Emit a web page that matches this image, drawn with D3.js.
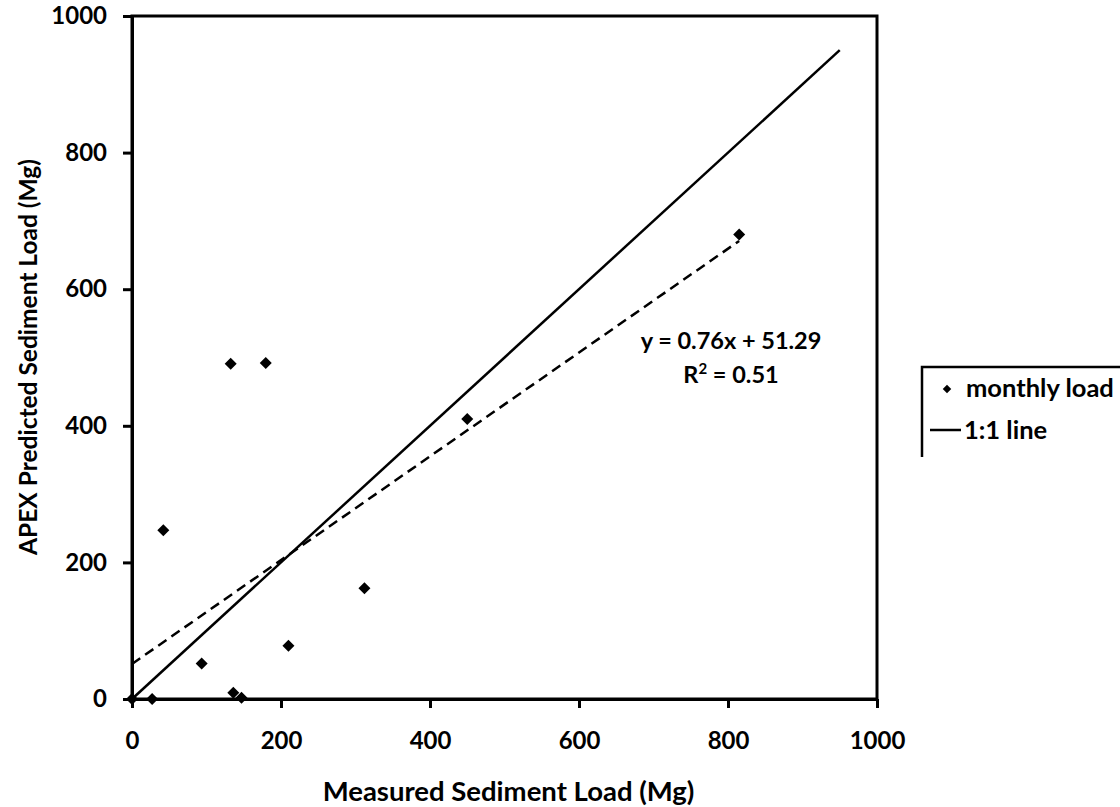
<!DOCTYPE html>
<html>
<head>
<meta charset="utf-8">
<script src="https://cdn.jsdelivr.net/npm/d3@7"></script>
<style>
    body { margin: 0; background: #fff; }
    svg text { font-family: Lato, "Open Sans", sans-serif; font-weight: bold; fill: #000; }
</style>
</head>
<body>
<div id="chart"></div>
<script>
// measured vs predicted monthly sediment load (Mg)
let measured  = [0, 27, 42, 93.5, 132.5, 136, 147, 179.5, 210, 312, 450, 815];
let predicted = [0, 0, 247, 52, 491, 9, 2, 492, 78, 162, 410, 680];
let xTicks = [0, 200, 400, 600, 800, 1000];
let yTicks = [0, 200, 400, 600, 800, 1000];
let trendSlope = 0.76;
let trendIntercept = 51.29;
let oneToOneEnd = 950;

let data = measured.map((d, i) => ({ x: d, y: predicted[i] }));

let width = 1120, height = 807;
let svg = d3.select("#chart").append("svg")
    .attr("width", width)
    .attr("height", height);

let x = d3.scaleLinear().domain([0, 1000]).range([132, 877]);
let y = d3.scaleLinear().domain([0, 1000]).range([699, 16]);

// plot frame (top and right edges)
svg.append("rect")
    .attr("x", x(0))
    .attr("y", y(1000))
    .attr("width", x(1000) - x(0))
    .attr("height", y(0) - y(1000))
    .attr("fill", "none")
    .attr("stroke", "#000")
    .attr("stroke-width", 3);

// axes
let xAxis = d3.axisBottom(x).tickValues(xTicks).tickFormat(d3.format("d"))
    .tickSize(9).tickSizeOuter(0).tickPadding(24);
let yAxis = d3.axisLeft(y).tickValues(yTicks).tickFormat(d3.format("d"))
    .tickSize(9).tickSizeOuter(0).tickPadding(16);

let gx = svg.append("g")
    .attr("transform", "translate(0," + y(0) + ")")
    .call(xAxis);
let gy = svg.append("g")
    .attr("transform", "translate(" + x(0) + ",0)")
    .call(yAxis);

[gx, gy].forEach(g => {
    g.selectAll("path, line").attr("stroke", "#000").attr("stroke-width", 3);
    g.selectAll("text").style("font-size", "24px");
});

// 1:1 line
svg.append("line")
    .attr("x1", x(0)).attr("y1", y(0))
    .attr("x2", x(oneToOneEnd)).attr("y2", y(oneToOneEnd))
    .attr("stroke", "#000")
    .attr("stroke-width", 2.5);

// linear trend line
let xMax = d3.max(measured);
svg.append("line")
    .attr("x1", x(0)).attr("y1", y(trendIntercept))
    .attr("x2", x(xMax)).attr("y2", y(trendSlope * xMax + trendIntercept))
    .attr("stroke", "#000")
    .attr("stroke-width", 2.5)
    .attr("stroke-dasharray", "10,6");

// points
let diamond = d3.symbol().type(d3.symbolSquare).size(72);
svg.selectAll(".pt")
    .data(data)
    .enter()
    .append("path")
    .attr("class", "pt")
    .attr("d", diamond)
    .attr("transform", d => "translate(" + x(d.x) + "," + y(d.y) + ") rotate(45)")
    .attr("fill", "#000");

// equation
svg.append("text")
    .attr("x", 731).attr("y", 349)
    .attr("text-anchor", "middle")
    .style("font-size", "23.5px")
    .text("y = " + trendSlope + "x + " + trendIntercept);
let r2 = svg.append("text")
    .attr("x", 731).attr("y", 383)
    .attr("text-anchor", "middle")
    .style("font-size", "23.5px");
r2.append("tspan").text("R");
r2.append("tspan").attr("dy", -9).style("font-size", "15px").text("2");
r2.append("tspan").attr("dy", 9).text(" = 0.51");

// axis titles
svg.append("text")
    .attr("x", (x(0) + x(1000)) / 2 + 4)
    .attr("y", 801)
    .attr("text-anchor", "middle")
    .style("font-size", "27.5px")
    .text("Measured Sediment Load (Mg)");

svg.append("text")
    .attr("transform", "translate(37,357) rotate(-90)")
    .attr("text-anchor", "middle")
    .style("font-size", "24.5px")
    .text("APEX Predicted Sediment Load (Mg)");

// legend (box runs off the right edge)
let legend = svg.append("g");
legend.append("path")
    .attr("d", "M1130,367H922V457")
    .attr("fill", "none")
    .attr("stroke", "#000")
    .attr("stroke-width", 2.5);
legend.append("path")
    .attr("d", d3.symbol().type(d3.symbolSquare).size(36))
    .attr("transform", "translate(947,389) rotate(45)")
    .attr("fill", "#000");
legend.append("text")
    .attr("x", 966).attr("y", 397)
    .style("font-size", "25.5px")
    .text("monthly load");
legend.append("line")
    .attr("x1", 930).attr("x2", 961)
    .attr("y1", 430).attr("y2", 430)
    .attr("stroke", "#000")
    .attr("stroke-width", 2.5);
legend.append("text")
    .attr("x", 964).attr("y", 439)
    .style("font-size", "25.5px")
    .text("1:1 line");
</script>
</body>
</html>
